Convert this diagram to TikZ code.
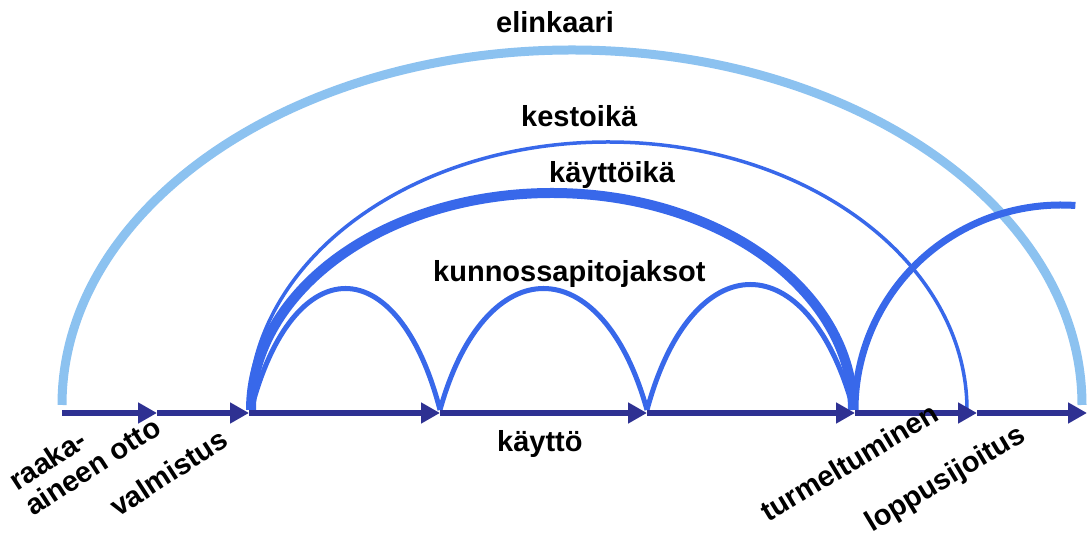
\documentclass[tikz,border=0pt]{standalone}
\usepackage{fontspec}
\setmainfont{Liberation Sans}
\usetikzlibrary{arrows.meta,calc}
\definecolor{navy}{RGB}{46,49,146}
\definecolor{midblue}{RGB}{56,104,234}
\definecolor{lightblue}{RGB}{140,194,240}
\begin{document}
\begin{tikzpicture}[x=1pt,y=1pt,
  axisseg/.style={draw=navy,line width=6.5pt,-{Triangle[length=19pt,width=20pt]}},
  lbl/.style={font=\fontsize{29}{31}\selectfont\bfseries,inner sep=0pt,text=black},
  rlbl/.style={lbl,anchor=base west},
  cycle arc/.style={draw=midblue,line width=5pt}]
\useasboundingbox (0,0) rectangle (1088,548);
% axis points
\coordinate (p0) at (62,135);
\coordinate (p1) at (157,135);
\coordinate (p2) at (249,135);
\coordinate (p3) at (440,135);
\coordinate (p4) at (647,135);
\coordinate (p5) at (855,135);
\coordinate (p6) at (977,135);
\coordinate (p7) at (1087,135);
% arc start points
\coordinate (e0) at (62,143);
\coordinate (k0) at (249,138);
\coordinate (u0) at (251,138);
\coordinate (m0) at (251,138);
\coordinate (m1) at (440,138);
\coordinate (m2) at (647,138);
\coordinate (m3) at (853,140);
\coordinate (r0) at (855,138);
% elinkaari
\draw[lightblue,line width=9pt] (e0) arc[start angle=180,end angle=0,x radius=510,y radius=355];
% kestoika
\draw[midblue,line width=3.5pt] (k0) arc[start angle=180,end angle=0,x radius=359,y radius=268];
% kayttoika
\draw[midblue,line width=10pt] (u0) arc[start angle=180,end angle=0,x radius=301,y radius=217];
% kunnossapitojaksot
\draw[cycle arc] (m0) .. controls ($(m0)+(42,162)$) and ($(m1)+(-42,162)$) .. (m1);
\draw[cycle arc] (m1) .. controls ($(m1)+(45,162)$) and ($(m2)+(-45,162)$) .. (m2);
\draw[cycle arc] (m2) .. controls ($(m2)+(45,167)$) and ($(m3)+(-45,165)$) .. (m3);
% next cycle
\draw[midblue,line width=7pt] (r0) arc[start angle=180,end angle=86,x radius=206,y radius=205];
% axis
\draw[axisseg] (p0) -- (p1);
\draw[axisseg] (p1) -- (p2);
\draw[axisseg] (p2) -- (p3);
\draw[axisseg] (p3) -- (p4);
\draw[axisseg] (p4) -- (p5);
\draw[axisseg] (p5) -- (p6);
\draw[axisseg] (p6) -- (p7);
% labels
\node[lbl,anchor=base west] (lelin) at (496,515) {elinkaari};
\node[lbl,anchor=base west] (lkesto) at (521,421) {kestoikä};
\node[lbl,anchor=base west] (lkaytto) at (549,365) {käyttöikä};
\node[lbl,anchor=base west] (lkunn) at (433,266) {kunnossapitojaksot};
\node[lbl,anchor=base west] (lkay) at (497,96) {käyttö};
\node[rlbl,rotate=33] (lraaka) at (17,56) {raaka-};
\node[rlbl,rotate=33] (laineen) at (33,31) {aineen otto};
\node[rlbl,rotate=33] (lvalm) at (118,30) {valmistus};
\node[rlbl,rotate=31] (lturm) at (768,25) {turmeltuminen};
\node[rlbl,rotate=31] (lloppu) at (872,15) {loppusijoitus};
\end{tikzpicture}
\end{document}
